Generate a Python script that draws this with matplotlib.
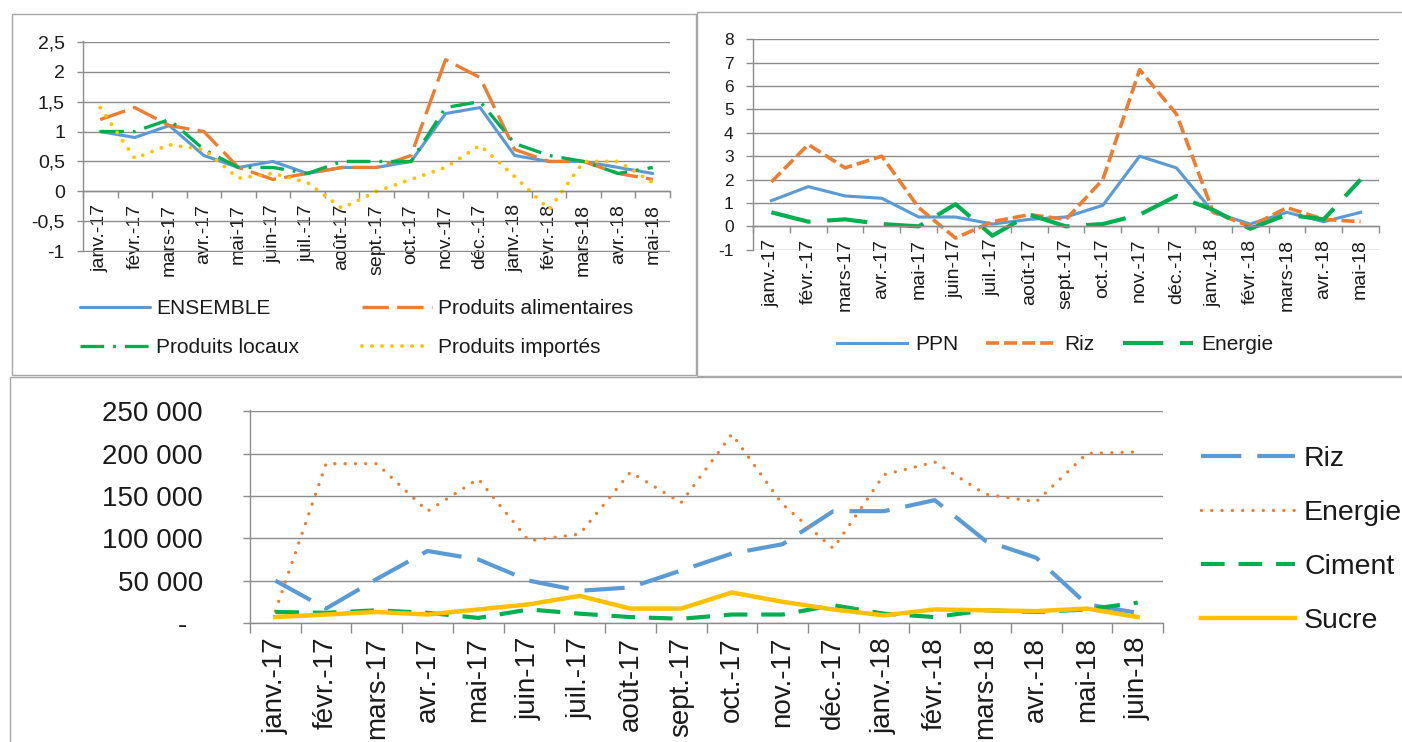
import matplotlib
matplotlib.use('Agg')
import matplotlib.pyplot as plt
from matplotlib.patches import Rectangle
import numpy as np

plt.rcParams['font.family'] = ['Liberation Sans', 'DejaVu Sans']
plt.rcParams['lines.scale_dashes'] = False

# ---------------- data ----------------
mois_haut = ["janv.-17", "févr.-17", "mars-17", "avr.-17", "mai-17", "juin-17", "juil.-17",
             "août-17", "sept.-17", "oct.-17", "nov.-17", "déc.-17", "janv.-18", "févr.-18",
             "mars-18", "avr.-18", "mai-18"]
mois_bas = mois_haut + ["juin-18"]

ensemble = [1.0, 0.9, 1.1, 0.6, 0.4, 0.5, 0.3, 0.4, 0.4, 0.5, 1.3, 1.4, 0.6, 0.5, 0.5, 0.4, 0.3]
alimentaires = [1.2, 1.4, 1.1, 1.0, 0.4, 0.2, 0.3, 0.4, 0.4, 0.6, 2.2, 1.9, 0.7, 0.5, 0.5, 0.3, 0.2]
locaux = [1.0, 1.0, 1.2, 0.7, 0.4, 0.4, 0.3, 0.5, 0.5, 0.5, 1.4, 1.5, 0.8, 0.6, 0.5, 0.3, 0.4]
importes = [1.4, 0.55, 0.78, 0.7, 0.22, 0.3, 0.15, -0.28, 0.0, 0.2, 0.4, 0.77, 0.25, -0.3, 0.5, 0.5, 0.15]

ppn = [1.1, 1.7, 1.3, 1.2, 0.4, 0.4, 0.1, 0.3, 0.4, 0.9, 3.0, 2.5, 0.6, 0.1, 0.6, 0.2, 0.6]
riz_pct = [1.9, 3.5, 2.5, 3.0, 0.8, -0.5, 0.2, 0.5, 0.3, 2.0, 6.7, 4.8, 0.6, 0.0, 0.8, 0.3, 0.2]
energie_pct = [0.6, 0.2, 0.3, 0.1, 0.0, 0.95, -0.4, 0.5, 0.0, 0.1, 0.5, 1.3, 0.7, -0.1, 0.5, 0.3, 2.0]

riz_val = [50000, 17000, 52000, 85000, 75000, 50000, 38000, 42000, 62000, 82000, 93000,
           132000, 132000, 145000, 97000, 77000, 22000, 12000]
energie_val = [14000, 188000, 188000, 132000, 170000, 97000, 105000, 178000, 142000, 223000,
               140000, 88000, 175000, 190000, 152000, 143000, 200000, 202000]
ciment_val = [13000, 12000, 15000, 12000, 6000, 16000, 11000, 7000, 5000, 10000, 10000,
              21000, 11000, 7000, 15000, 13000, 16000, 24000]
sucre_val = [7000, 10000, 13000, 10000, 16000, 22000, 32000, 17000, 17000, 36000, 25000,
             16000, 9000, 16000, 15000, 14000, 17000, 7000]

yt_tl = [-1, -0.5, 0, 0.5, 1, 1.5, 2, 2.5]
yl_tl = ["-1", "-0,5", "0", "0,5", "1", "1,5", "2", "2,5"]
yt_tr = [-1, 0, 1, 2, 3, 4, 5, 6, 7, 8]
yl_tr = ["-1", "0", "1", "2", "3", "4", "5", "6", "7", "8"]
yt_b = [0, 50000, 100000, 150000, 200000, 250000]
yl_b = ["-\u2007", "50 000", "100 000", "150 000", "200 000", "250 000"]

# ---------------- style ----------------
W, H = 1402, 742
BLUE, ORANGE, GREEN, YELLOW = "#5B9BD5", "#ED7D31", "#00B050", "#FFC000"
GRID = "#8C8C8C"
TXT = "#1a1a1a"

fig = plt.figure(figsize=(W / 100, H / 100), dpi=100)


def px_rect(x0, y0, x1, y1):
    return [x0 / W, 1 - y1 / H, (x1 - x0) / W, (y1 - y0) / H]


# panel borders
for (x0, y0, x1, y1) in [(12, 14, 696, 375), (697, 12, 1410, 376), (10, 377, 1410, 760)]:
    fig.add_artist(Rectangle((x0 / W, 1 - y1 / H), (x1 - x0) / W, (y1 - y0) / H,
                             transform=fig.transFigure, fill=False,
                             edgecolor="#A6A6A6", lw=1.0))


def style(ax, labels, ylim, yt, yl, zero_axis, yfs, xfs, xtick_len, xpad, ypad, ytick_len):
    n = len(labels)
    ax.set_xlim(-0.5, n - 0.5)
    ax.set_ylim(*ylim)
    ax.set_yticks(yt)
    ax.set_yticklabels(yl, fontsize=yfs, color=TXT)
    ax.yaxis.grid(True, color=GRID, lw=1.0)
    ax.set_axisbelow(True)
    for s in ["top", "right"]:
        ax.spines[s].set_visible(False)
    ax.spines["left"].set_color(GRID)
    ax.spines["bottom"].set_color(GRID)
    ax.spines["left"].set_linewidth(1.0)
    ax.spines["bottom"].set_linewidth(1.0)
    if zero_axis:
        ax.spines["bottom"].set_position(("data", 0))
    ax.set_xticks(np.arange(n + 1) - 0.5)
    ax.set_xticklabels([])
    ax.set_xticks(np.arange(n), minor=True)
    ax.set_xticklabels(labels, minor=True, rotation=90, fontsize=xfs, color=TXT)
    ax.tick_params(axis="x", which="major", length=xtick_len, color=GRID, width=1.0)
    ax.tick_params(axis="x", which="minor", length=0, pad=xpad)
    ax.tick_params(axis="y", length=ytick_len, color=GRID, width=1.0, pad=ypad)
    ax.patch.set_alpha(0)


# ---------------- top-left ----------------
ax1 = fig.add_axes(px_rect(83, 41.5, 670, 251.5))
x1 = np.arange(len(mois_haut))
l_ens, = ax1.plot(x1, ensemble, color=BLUE, lw=2.25, solid_capstyle="round", label="ENSEMBLE")
l_ali, = ax1.plot(x1, alimentaires, color=ORANGE, lw=2.4, dashes=(19, 6), label="Produits alimentaires")
l_loc, = ax1.plot(x1, locaux, color=GREEN, lw=2.4, dashes=(17, 6.5, 2, 6.5), label="Produits locaux")
l_imp, = ax1.plot(x1, importes, color=YELLOW, lw=2.8, dashes=(0.01, 7.2), dash_capstyle="round",
                  label="Produits importés")
style(ax1, mois_haut, (-1.003, 2.503), yt_tl, yl_tl, True, 14, 14, 5, 9, 9, 4)

fs1 = 15
leg_kw = dict(bbox_transform=fig.transFigure, frameon=False, fontsize=fs1, handlelength=3.35,
              handletextpad=0.3, labelspacing=0.95, borderpad=0, borderaxespad=0, labelcolor=TXT)
fig.legend(handles=[l_ens, l_loc], loc="upper left", bbox_to_anchor=(80 / W, 1 - 299 / H), **leg_kw)
fig.legend(handles=[l_ali, l_imp], loc="upper left", bbox_to_anchor=(362 / W, 1 - 299 / H), **leg_kw)

# ---------------- top-right ----------------
ax2 = fig.add_axes(px_rect(753, 39, 1379, 250))
l_ppn, = ax2.plot(x1, ppn, color=BLUE, lw=2.25, label="PPN")
l_riz, = ax2.plot(x1, riz_pct, color=ORANGE, lw=2.6, dashes=(9.4, 3.6), label="Riz")
l_ene, = ax2.plot(x1, energie_pct, color=GREEN, lw=3.0, dashes=(29, 12), label="Energie")
style(ax2, mois_haut, (-1.01, 8.01), yt_tr, yl_tr, True, 12.5, 14, 5, 9, 9, 5)

fig.legend(handles=[l_ppn, l_riz, l_ene], loc="center left", bbox_to_anchor=(837 / W, 1 - 345 / H),
           bbox_transform=fig.transFigure, frameon=False, fontsize=15, ncol=3, handlelength=3.37,
           handletextpad=0.38, columnspacing=1.35, borderpad=0, borderaxespad=0, labelcolor=TXT)

# ---------------- bottom ----------------
ax3 = fig.add_axes(px_rect(250, 410.5, 1163, 623))
x3 = np.arange(len(mois_bas))
b_riz, = ax3.plot(x3, riz_val, color=BLUE, lw=3.0, dashes=(29, 11.5), label="Riz")
b_ene, = ax3.plot(x3, energie_val, color=ORANGE, lw=2.4, dashes=(0.01, 7.4), dash_capstyle="round",
                  label="Energie")
b_cim, = ax3.plot(x3, ciment_val, color=GREEN, lw=3.0, dashes=(17, 10), label="Ciment")
b_suc, = ax3.plot(x3, sucre_val, color=YELLOW, lw=3.2, label="Sucre")
style(ax3, mois_bas, (0, 250800), yt_b, yl_b, False, 20, 20, 7, 10, 29, 5)

fig.legend(handles=[b_riz, b_ene, b_cim, b_suc], loc="upper left",
           bbox_to_anchor=(1201 / W, 1 - 446 / H), bbox_transform=fig.transFigure,
           frameon=False, fontsize=20.5, handlelength=3.3, handletextpad=0.32,
           labelspacing=0.98, borderpad=0, borderaxespad=0, labelcolor=TXT)

fig.savefig("out.png", dpi=100)
